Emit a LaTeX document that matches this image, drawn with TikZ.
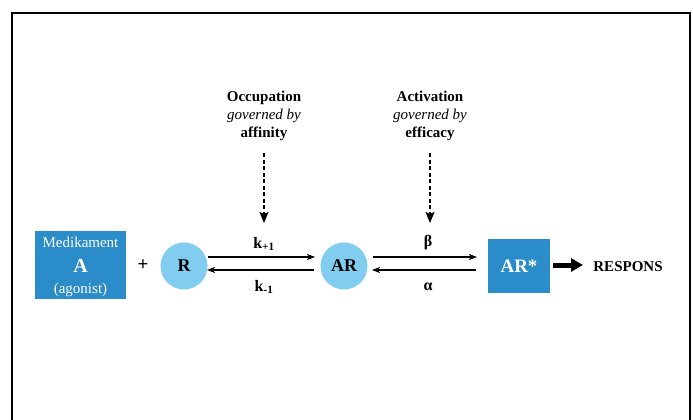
\documentclass[tikz,border=0pt]{standalone}
\usepackage{fontspec}
\setmainfont{Liberation Serif}
\usetikzlibrary{arrows.meta}
\definecolor{boxblue}{HTML}{2B8CCA}
\definecolor{circblue}{HTML}{80CDEF}
\begin{document}
\begin{tikzpicture}[x=1pt,y=-1pt,
  species/.style={circle,fill=circblue,minimum size=47pt,inner sep=0pt,font=\fontsize{18}{18}\selectfont\bfseries},
  statebox/.style={fill=boxblue,text=white,inner sep=0pt},
  rate/.style={-{Stealth[length=8pt,width=6pt,inset=2pt]},line width=1.2pt},
  ratelbl/.style={font=\fontsize{16}{16}\selectfont\bfseries},
  caption/.style={align=center,font=\fontsize{15}{18}\selectfont},
  control/.style={dash pattern=on 4pt off 2.5pt,line width=1.4pt,-{Stealth[length=11pt,width=9pt,inset=2pt]}}]
\useasboundingbox (0,0) rectangle (693,420);
% open frame
\draw[line width=2.8pt] (12,421) -- (12,13) -- (690,13) -- (690,421);

% drug box
\node[statebox,minimum width=91pt,minimum height=68pt] (drug) at (80.5,265) {};
\node[text=white,font=\fontsize{15}{15}\selectfont] (drugname) at (80.5,242) {Medikament};
\node[text=white,font=\fontsize{20}{20}\selectfont\bfseries] (drugA) at (80.5,266) {A};
\node[text=white,font=\fontsize{15}{15}\selectfont] (drugtype) at (80.5,290) {(agonist)};
\node[font=\fontsize{19}{19}\selectfont\bfseries] (plus) at (143,265) {+};

% species
\node[species] (R) at (184,266) {R};
\node[species] (AR) at (344,266) {AR};
\node[statebox,minimum width=62pt,minimum height=54pt,font=\fontsize{19}{19}\selectfont\bfseries] (ARs) at (519,266) {AR*};

% equilibria
\coordinate (r1) at (208,257);
\coordinate (r2) at (315,257);
\coordinate (r3) at (314,270);
\coordinate (r4) at (207,270);
\draw[rate] (r1) -- (r2);
\draw[rate] (r3) -- (r4);
\node[ratelbl] (kp) at (264,244) {k\textsubscript{+1}};
\node[ratelbl] (km) at (264,287) {k\textsubscript{-1}};

\coordinate (a1) at (373,257);
\coordinate (a2) at (477,257);
\coordinate (a3) at (476,270);
\coordinate (a4) at (372,270);
\draw[rate] (a1) -- (a2);
\draw[rate] (a3) -- (a4);
\node[ratelbl] (beta) at (428,243) {β};
\node[ratelbl] (alpha) at (428,287) {α};

% response
\node[font=\fontsize{15}{15}\selectfont\bfseries] (resp) at (628,267) {RESPONS};
\coordinate (respstart) at (553,265);
\coordinate (respend) at (583,265);
\draw[line width=5pt,-{Triangle[length=12pt,width=13pt]}] (respstart) -- (respend);

% controlling captions
\node[caption] (occ) at (264,116) {\textbf{Occupation}\\\textit{governed by}\\\textbf{affinity}};
\node[caption] (act) at (430,116) {\textbf{Activation}\\\textit{governed by}\\\textbf{efficacy}};
\coordinate (occstart) at (264,153);
\coordinate (actstart) at (430,153);
\coordinate (occend) at (264,223);
\coordinate (actend) at (430,223);
\draw[control] (occstart) -- (occend);
\draw[control] (actstart) -- (actend);
\end{tikzpicture}
\end{document}
